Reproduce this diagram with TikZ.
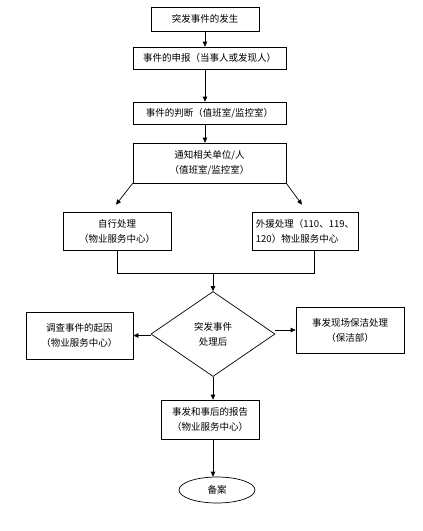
\documentclass[tikz,border=0pt]{standalone}
\usepackage{fontspec}
\setmainfont{Noto Sans CJK SC}
\usetikzlibrary{calc, arrows.meta, positioning, shapes.geometric}

\begin{document}
\begin{tikzpicture}[x=1pt, y=-1pt, >={Triangle[length=5pt, width=4.5pt]},
    line width=0.7pt,
    block/.style={draw, rectangle, minimum height=22pt, minimum width=153pt,
                  align=center, inner sep=1pt,
                  font=\fontsize{9.5}{15}\selectfont},
    decide/.style={draw, diamond, minimum width=124pt, minimum height=85pt,
                   aspect=1.46, inner sep=0pt, align=center,
                   font=\fontsize{9.5}{15}\selectfont},
    term/.style={draw, ellipse, minimum width=76pt, minimum height=26pt,
                 inner sep=0pt, font=\fontsize{9.5}{15}\selectfont}
  ]
  \useasboundingbox (0,0) rectangle (423,531);

  % Nodes
  \node[block, minimum width=108pt, minimum height=24pt] (occur) at (205,19) {突发事件的发生};
  \node[block] (report) at (209.5,58)  {事件的申报（当事人或发现人）};
  \node[block] (judge)  at (209.5,113) {事件的判断（值班室/监控室）};
  \node[block, minimum height=40pt] (notify) at (209.5,163) {通知相关单位/人\\（值班室/监控室）};

  \node[block, minimum width=108pt, minimum height=38pt] (self) at (117,231) {自行处理\\（物业服务中心）};
  \node[block, minimum width=106pt, minimum height=38pt, align=left] (ext) at (305,231) {外援处理（110、119、\\120）物业服务中心};

  \node[decide] (after) at (213,334) {突发事件\\处理后};
  \node[block, minimum width=107pt, minimum height=47pt] (cause) at (79.5,335.5) {调查事件的起因\\（物业服务中心）};
  \node[block, minimum width=108pt, minimum height=46pt] (clean) at (350,330) {事发现场保洁处理\\（保洁部）};

  \node[block, minimum width=98pt, minimum height=39pt] (sum) at (210,419.5) {事发和事后的报告\\（物业服务中心）};
  \node[term] (file) at (217,490) {备案};

  % Top chain
  \draw[->] (occur.south) -- (occur.south |- report.north);
  \draw[->] (occur.south |- report.south) -- (occur.south |- judge.north);
  \draw[->] (occur.south |- judge.south) -- (occur.south |- notify.north);

  % Split
  \draw[->] (notify.south west) -- ([yshift=7pt, xshift=-1pt]self.north);
  \draw[->] (notify.south east) -- ([yshift=7pt, xshift=-3pt]ext.north);

  % Merge
  \coordinate (join) at (213,273);
  \draw (self.south) -- (self.south |- join) -| ([xshift=9pt]ext.south);
  \draw[->] (join) -- (after.north);

  % Branches
  \draw[->] (after.west |- cause) -- (cause.east);
  \draw[->] (after.east |- clean) -- (clean.west);
  \draw[->] (after.south) -- (after.south |- sum.north);
  \draw[->] (after.south |- sum.south) -- (after.south |- file.north);
\end{tikzpicture}
\end{document}
